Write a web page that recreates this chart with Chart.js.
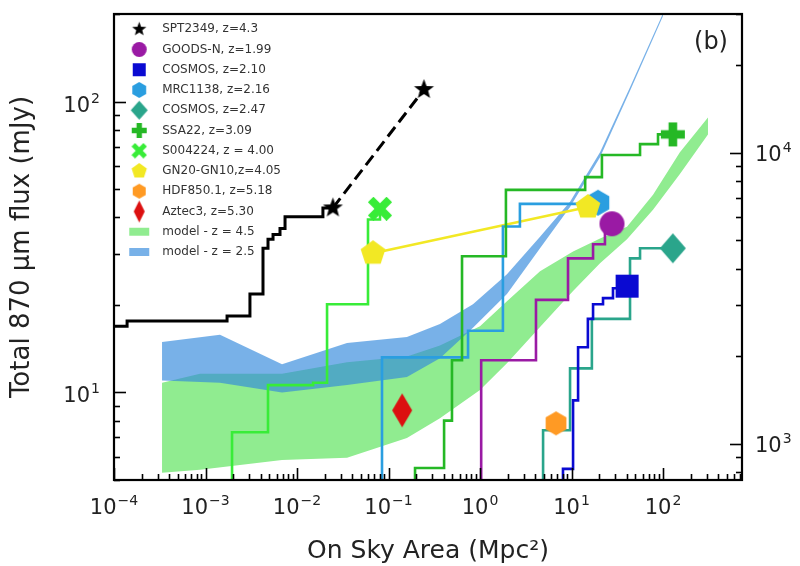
<!DOCTYPE html>
<html>
<head>
<meta charset="utf-8">
<script src="https://cdn.jsdelivr.net/npm/chart.js@4/dist/chart.umd.min.js"></script>
<style>
  html, body { margin: 0; padding: 0; background: #fff; }
  canvas { display: block; }
</style>
</head>
<body>
<canvas id="myChart" width="800" height="566"></canvas>
<script>
// cumulative flux curves (step positions)
const sptX = [1e-4, 1.39e-4, 1.72e-3, 3.06e-3, 4.25e-3, 4.82e-3, 5.47e-3, 6.52e-3, 7.4e-3, 0.0192, 0.0247];
const sptY = [16.9, 17.6, 18.3, 21.8, 31.3, 33.6, 34.9, 36.6, 40.2, 43.1, 43.1];
const sptDashX = [0.0247, 0.244];
const sptDashY = [43.1, 110];

const s004X = [1.95e-3, 1.95e-3, 4.82e-3, 0.015, 0.0213, 0.0597, 0.0807];
const s004Y = [4, 7.3, 10.6, 10.8, 20.1, 39.3, 42.8];

const ssa22X = [0.195, 0.195, 0.405, 0.494, 0.636, 1.92, 14.1, 21.5, 56.1, 88.2, 128];
const ssa22Y = [4, 5.5, 8.0, 12.9, 29.4, 49.7, 55.0, 65.5, 71.4, 77.1, 77.1];

const mrcX = [0.0849, 0.0849, 0.74, 1.78, 2.73, 19.5];
const mrcY = [4, 13.2, 16.3, 37.2, 44.5, 44.5];

const goodsX = [1.03, 1.03, 4.09, 9.16, 17.2, 23.2, 27.7];
const goodsY = [4, 12.9, 20.8, 28.9, 32.3, 35.2, 38.0];

const cos210X = [8.07, 8.07, 10.4, 11.8, 15.1, 17.2, 22.1, 28.4, 40.5];
const cos210Y = [4, 5.46, 9.39, 14.3, 17.9, 20.1, 21.1, 22.8, 23.2];

const cos247X = [4.89, 4.89, 9.64, 16.7, 43.6, 56.1, 128];
const cos247Y = [4, 7.41, 12.1, 17.9, 28.9, 31.3, 31.3];

const gn20X = [0.0678, 15.1];
const gn20Y = [30.1, 43.4];

// single sources
const mrcPointY = [44.9];
const hdfX = [6.78];
const hdfY = [7.83];
const aztecX = [0.141];
const aztecY = [8.68];

// model bands
const greenBandX = [3.35e-4, 8.71e-4, 6.86e-3, 0.0352, 0.159, 0.365, 1.0, 1.97, 4.53, 10.4, 20.5, 40.4, 77.8, 153, 310];
const greenBandLo = [5.30, 5.42, 5.86, 5.96, 6.97, 8.15, 10.2, 12.6, 16.8, 22.3, 27.8, 33.6, 42.5, 56.4, 77.1];
const greenBandHi = [10.8, 11.6, 11.6, 12.7, 13.3, 14.5, 16.9, 20.6, 26.1, 30.5, 33.8, 37.1, 47.8, 66.9, 88.1];

const blueBandX = [3.35e-4, 1.44e-3, 6.86e-3, 0.0352, 0.159, 0.365, 0.838, 1.97, 4.53, 9.64, 20.5, 43.6, 100];
const blueBandLo = [11.0, 10.8, 10.0, 10.6, 11.3, 13.1, 16.7, 21.8, 31.3, 43.4, 64.4, 109, 197];
const blueBandHi = [14.9, 15.8, 12.5, 14.8, 15.5, 17.2, 20.1, 25.5, 34.3, 45.2, 66.9, 112, 201];

const labels = ['SPT2349, z=4.3', 'GOODS-N, z=1.99', 'COSMOS, z=2.10', 'MRC1138, z=2.16', 'COSMOS, z=2.47',
  'SSA22, z=3.09', 'S004224, z = 4.00', 'GN20-GN10,z=4.05', 'HDF850.1, z=5.18', 'Aztec3, z=5.30',
  'model - z = 4.5', 'model - z = 2.5'];

const xRange = [1e-4, 730];
const yRange = [5, 200];
const y2Range = [750, 30000];

Chart.defaults.font.family = "'DejaVu Sans', sans-serif";

const pts = (xs, ys) => xs.map((x, i) => ({x: x, y: ys[i]}));

// little canvases used as point styles
function marker(shape, color, w, h) {
  h = h || w;
  const c = document.createElement('canvas');
  c.width = w + 2;
  c.height = h + 2;
  const g = c.getContext('2d');
  g.fillStyle = color;
  g.translate(c.width / 2, c.height / 2);
  const rx = w / 2, ry = h / 2;
  const poly = (n, r, inner) => {
    const k = inner ? n * 2 : n;
    for (let i = 0; i < k; i++) {
      const a = -Math.PI / 2 + i * Math.PI * 2 / k;
      const rr = inner && i % 2 ? r * inner : r;
      i ? g.lineTo(rr * Math.cos(a), rr * Math.sin(a)) : g.moveTo(rr * Math.cos(a), rr * Math.sin(a));
    }
  };
  g.beginPath();
  if (shape === 'circle') g.ellipse(0, 0, rx, ry, 0, 0, Math.PI * 2);
  else if (shape === 'rect') g.rect(-rx, -ry, w, h);
  else if (shape === 'diamond') { g.moveTo(0, -ry); g.lineTo(rx, 0); g.lineTo(0, ry); g.lineTo(-rx, 0); }
  else if (shape === 'star') poly(5, rx, 0.42);
  else if (shape === 'pentagon') poly(5, rx);
  else if (shape === 'hexagon') poly(6, rx);
  else if (shape === 'plus' || shape === 'x') {
    if (shape === 'x') g.rotate(Math.PI / 4);
    const t = w * 0.36;
    const l = shape === 'x' ? rx * 1.2 : rx;
    g.rect(-l, -t / 2, 2 * l, t);
    g.rect(-t / 2, -l, t, 2 * l);
  }
  g.closePath();
  g.fill();
  return c;
}

const colBlack = '#000000', colPurple = '#9a1aa4', colBlue = '#0a0ad2', colSky = '#2a9ee0',
  colTeal = '#2aa58b', colGreen = '#25b825', colLime = '#38ec38', colYellow = '#f2e824',
  colOrange = '#ff9a24', colRed = '#dc1010';

function markerSet(i, xs, ys, shape, color, w, h, lw, lh) {
  return {
    label: labels[i], data: pts(xs, ys), showLine: false,
    pointStyle: marker(shape, color, w, h), pointRadius: w / 2,
    legendIcon: marker(shape, color, lw, lh), order: 0
  };
}

function stepSet(xs, ys, color, width) {
  return {
    data: pts(xs, ys), showLine: true, stepped: 'before', borderColor: color,
    borderWidth: width || 2.6, pointRadius: 0, fill: false, order: 1
  };
}

const markers = [
  markerSet(0, sptDashX, sptDashY, 'star', colBlack, 21, 0, 15),
  markerSet(1, goodsX.slice(-1), goodsY.slice(-1), 'circle', colPurple, 25, 0, 15),
  markerSet(2, cos210X.slice(-1), cos210Y.slice(-1), 'rect', colBlue, 23, 0, 13),
  markerSet(3, mrcX.slice(-1), mrcPointY, 'hexagon', colSky, 26, 0, 16),
  markerSet(4, cos247X.slice(-1), cos247Y.slice(-1), 'diamond', colTeal, 26, 30, 17, 19),
  markerSet(5, ssa22X.slice(-1), ssa22Y.slice(-1), 'plus', colGreen, 24, 0, 15),
  markerSet(6, s004X.slice(-1), s004Y.slice(-1), 'x', colLime, 22, 0, 14),
  markerSet(7, gn20X, gn20Y, 'pentagon', colYellow, 26, 0, 16),
  markerSet(8, hdfX, hdfY, 'hexagon', colOrange, 24, 0, 15),
  markerSet(9, aztecX, aztecY, 'diamond', colRed, 20, 34, 11, 22)
];
markers[7].order = -1;

const bands = [
  {label: labels[10], data: pts(greenBandX, greenBandHi), showLine: true, borderWidth: 0,
   backgroundColor: '#90ec90', fill: '+1', pointRadius: 0, pointStyle: 'rect',
   legendIcon: marker('rect', '#90ec90', 20, 8), order: 3},
  {data: pts(greenBandX, greenBandLo), showLine: true, borderWidth: 0, pointRadius: 0, fill: false, order: 3},
  {label: labels[11], data: pts(blueBandX, blueBandHi), showLine: true, borderWidth: 0,
   backgroundColor: 'rgba(50,136,220,0.66)', fill: '+1', pointRadius: 0, pointStyle: 'rect',
   legendIcon: marker('rect', 'rgba(50,136,220,0.66)', 20, 8), order: 2},
  {data: pts(blueBandX, blueBandLo), showLine: true, borderWidth: 0, pointRadius: 0, fill: false, order: 2}
];

const lines = [
  stepSet(sptX, sptY, colBlack, 3),
  Object.assign(stepSet(sptDashX, sptDashY, colBlack, 3), {stepped: false, borderDash: [12, 6]}),
  stepSet(s004X, s004Y, colLime),
  stepSet(ssa22X, ssa22Y, colGreen),
  stepSet(mrcX, mrcY, colSky),
  stepSet(goodsX, goodsY, colPurple),
  stepSet(cos210X, cos210Y, colBlue),
  stepSet(cos247X, cos247Y, colTeal),
  Object.assign(stepSet(gn20X, gn20Y, colYellow, 2.4), {stepped: false})
];

// exact power of ten -> exponent, otherwise null
function powExp(v) {
  const e = Math.log10(v);
  const r = Math.round(e);
  return Math.abs(e - r) > 1e-6 ? null : r;
}

// inward tick marks, frame, 10^n labels and the panel letter
const frameTicks = {
  id: 'frameTicks',
  afterDraw(chart) {
    const {ctx, chartArea: a} = chart;
    ctx.save();
    ctx.strokeStyle = '#000';
    ctx.lineWidth = 1.6;
    const mark = (scale, side) => {
      scale.ticks.forEach(t => {
        const v = t.value;
        const e = Math.floor(Math.log10(v) + 1e-9);
        const m = v / Math.pow(10, e);
        if (Math.abs(m - Math.round(m)) > 1e-6) return;
        const len = Math.round(m) === 1 ? 12 : 6;
        const p = Math.round(scale.getPixelForValue(v)) + 0.5;
        ctx.beginPath();
        if (side === 'bottom') { ctx.moveTo(p, a.bottom); ctx.lineTo(p, a.bottom - len); }
        if (side === 'left') { ctx.moveTo(a.left, p); ctx.lineTo(a.left + len, p); }
        if (side === 'right') { ctx.moveTo(a.right, p); ctx.lineTo(a.right - len, p); }
        ctx.stroke();
      });
    };
    mark(chart.scales.x, 'bottom');
    mark(chart.scales.y, 'left');
    mark(chart.scales.y2, 'right');
    ctx.lineWidth = 2.2;
    ctx.strokeRect(a.left, a.top, a.right - a.left, a.bottom - a.top);

    const big = "21px 'DejaVu Sans'", small = "14px 'DejaVu Sans'";
    ctx.fillStyle = '#222';
    ctx.textAlign = 'left';
    ctx.textBaseline = 'alphabetic';
    const label = (scale, side) => {
      scale.ticks.forEach(t => {
        const r = powExp(t.value);
        if (r === null) return;
        const p = scale.getPixelForValue(t.value);
        const ex = String(r).replace('-', '\u2212');
        ctx.font = big;
        const w1 = ctx.measureText('10').width;
        ctx.font = small;
        const w2 = ctx.measureText(ex).width + 1;
        let x0, base;
        if (side === 'bottom') { x0 = p - (w1 + w2) / 2; base = a.bottom + 34; }
        if (side === 'left') { x0 = a.left - 14 - (w1 + w2); base = p + 10; }
        if (side === 'right') { x0 = a.right + 13; base = p + 8; }
        ctx.font = big;
        ctx.fillText('10', x0, base);
        ctx.font = small;
        ctx.fillText(ex, x0 + w1 + 1, base - 9);
      });
    };
    label(chart.scales.x, 'bottom');
    label(chart.scales.y, 'left');
    label(chart.scales.y2, 'right');

    ctx.font = "24px 'DejaVu Sans'";
    ctx.textAlign = 'center';
    ctx.textBaseline = 'middle';
    ctx.fillText('(b)', a.right - 31, a.top + 29);
    ctx.restore();
  }
};

const noPad = s => { s.paddingTop = 0; s.paddingBottom = 0; s.paddingLeft = 0; s.paddingRight = 0; };
const hiddenTicks = {autoSkip: false, maxRotation: 0, padding: 0, display: true, callback: () => ''};

new Chart(document.getElementById('myChart'), {
  type: 'scatter',
  data: {datasets: markers.concat(bands, lines)},
  plugins: [frameTicks],
  options: {
    responsive: false,
    animation: false,
    layout: {padding: {top: 10, left: 0, right: 0, bottom: 0}},
    plugins: {
      tooltip: {enabled: false},
      legend: {
        position: 'chartArea',
        align: 'start',
        title: {display: true, text: '', padding: 0, font: {size: 10, lineHeight: 1.5}},
        labels: {
          usePointStyle: true,
          pointStyleWidth: 34,
          padding: 8.25,
          color: '#333',
          font: {size: 12},
          sort: (a, b) => a.datasetIndex - b.datasetIndex,
          filter: (item, data) => !!data.datasets[item.datasetIndex].legendIcon,
          generateLabels(chart) {
            const items = Chart.defaults.plugins.legend.labels.generateLabels(chart);
            items.forEach(it => {
              const ds = chart.data.datasets[it.datasetIndex];
              if (ds.legendIcon) it.pointStyle = ds.legendIcon;
            });
            return items;
          }
        }
      }
    },
    scales: {
      x: {
        type: 'logarithmic', position: 'bottom',
        min: xRange[0], max: xRange[1],
        grid: {display: false, drawTicks: false}, border: {display: false},
        ticks: hiddenTicks,
        title: {display: true, text: 'On Sky Area (Mpc\u00B2)', color: '#222', font: {size: 25}, padding: {top: 0, bottom: 0}},
        afterFit: s => { s.height = 86; noPad(s); }
      },
      y: {
        type: 'logarithmic', position: 'left',
        min: yRange[0], max: yRange[1],
        grid: {display: false, drawTicks: false}, border: {display: false},
        ticks: hiddenTicks,
        title: {display: true, text: 'Total 870 \u03BCm flux (mJy)', color: '#222', font: {size: 26}, padding: {top: 7, bottom: 0}},
        afterFit: s => { s.width = 114; noPad(s); }
      },
      y2: {
        type: 'logarithmic', position: 'right',
        min: y2Range[0], max: y2Range[1],
        grid: {display: false, drawTicks: false}, border: {display: false},
        ticks: hiddenTicks,
        afterFit: s => { s.width = 58; noPad(s); }
      }
    }
  }
});
</script>
</body>
</html>
